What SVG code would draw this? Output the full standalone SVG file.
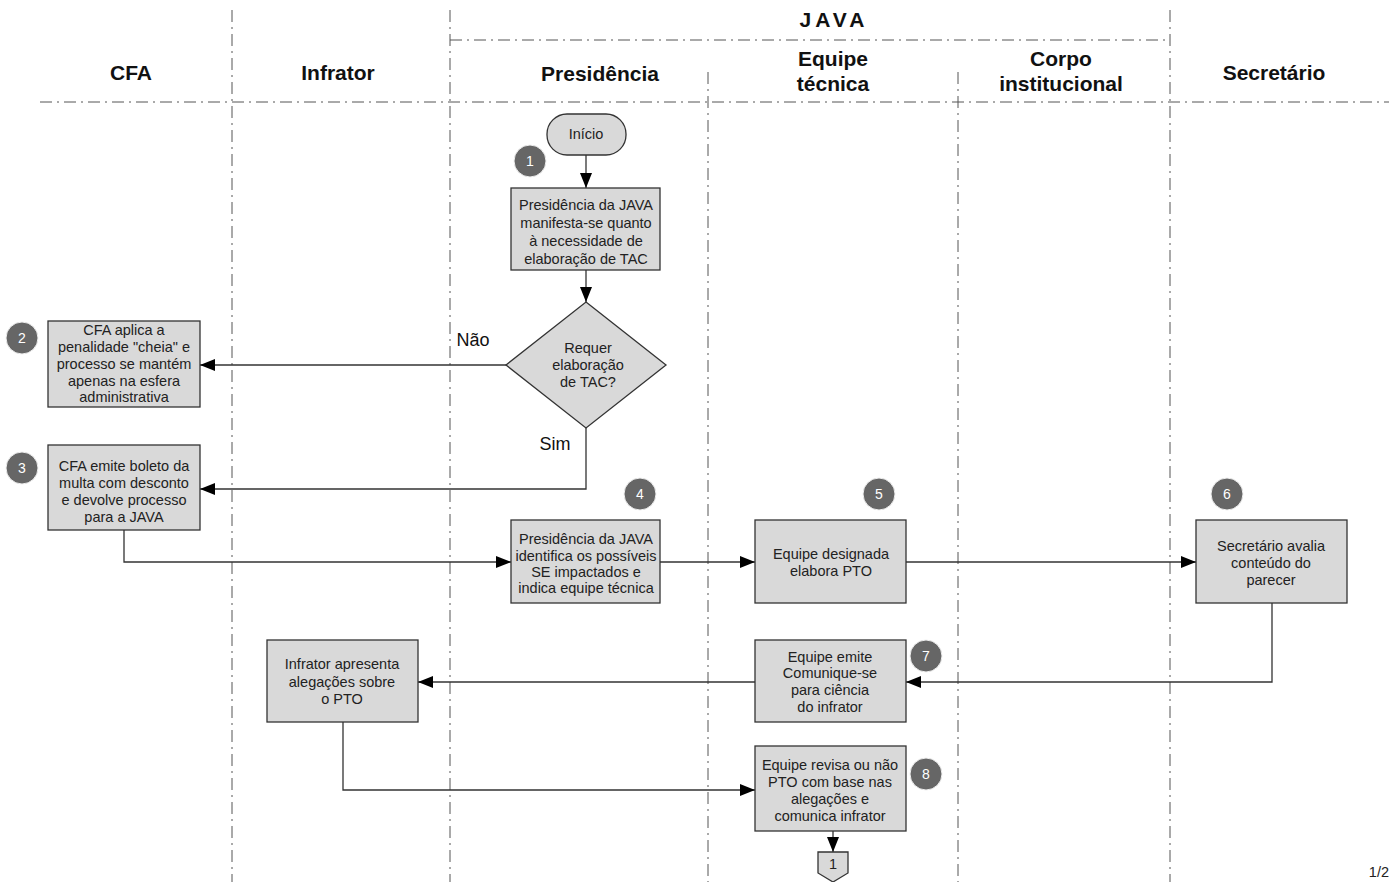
<svg xmlns="http://www.w3.org/2000/svg" width="1389" height="882" viewBox="0 0 1389 882">
<style>
.bg{fill:#ffffff}
.lane{stroke:#555;stroke-width:1;fill:none;stroke-dasharray:12 5 2 5}
.hdr{font-family:"Liberation Sans",Arial,sans-serif;font-weight:bold;font-size:21px;fill:#111;text-anchor:middle}
.box{fill:#d9d9d9;stroke:#333;stroke-width:1.3}
.t{font-family:"Liberation Sans",Arial,sans-serif;font-size:14.5px;fill:#222;text-anchor:middle}
.badge{fill:#666;stroke:#eee;stroke-width:1}
.bt{font-family:"Liberation Sans",Arial,sans-serif;font-size:14px;fill:#fff;text-anchor:middle}
.conn{stroke:#333;stroke-width:1.3;fill:none;marker-end:url(#arr)}
.lbl{font-family:"Liberation Sans",Arial,sans-serif;font-size:18px;fill:#111;text-anchor:middle}
</style>
<defs>
<marker id="arr" markerUnits="userSpaceOnUse" markerWidth="16" markerHeight="12" refX="15" refY="6" orient="auto">
<path d="M0,0 L15,6 L0,12 Z" fill="#000"/>
</marker>
</defs>
<rect class="bg" x="0" y="0" width="1389" height="882"/>
<g id="lanes">
<line class="lane" x1="232" y1="10" x2="232" y2="882"/>
<line class="lane" x1="450" y1="10" x2="450" y2="882"/>
<line class="lane" x1="708" y1="72" x2="708" y2="882"/>
<line class="lane" x1="958" y1="72" x2="958" y2="882"/>
<line class="lane" x1="1170" y1="10" x2="1170" y2="882"/>
<line class="lane" x1="40" y1="102" x2="1389" y2="102"/>
<line class="lane" x1="450" y1="40" x2="1170" y2="40"/>
</g>
<g id="headers">
<text class="hdr" x="131" y="80">CFA</text>
<text class="hdr" x="338" y="80">Infrator</text>
<text class="hdr" x="600" y="81">Presidência</text>
<text class="hdr" x="834" y="27" font-size="19" letter-spacing="4">JAVA</text>
<text class="hdr" x="833" y="66">Equipe</text>
<text class="hdr" x="833" y="91">técnica</text>
<text class="hdr" x="1061" y="66">Corpo</text>
<text class="hdr" x="1061" y="91">institucional</text>
<text class="hdr" x="1274" y="80">Secretário</text>
</g>
<g id="connectors">
<line class="conn" x1="586" y1="155" x2="586" y2="188"/>
<line class="conn" x1="586" y1="270" x2="586" y2="302"/>
<line class="conn" x1="506" y1="365" x2="200" y2="365"/>
<polyline class="conn" points="586,428 586,489 200,489"/>
<polyline class="conn" points="124,530 124,562 511,562"/>
<line class="conn" x1="660" y1="562" x2="755" y2="562"/>
<line class="conn" x1="906" y1="562" x2="1196" y2="562"/>
<polyline class="conn" points="1272,603 1272,682 906,682"/>
<line class="conn" x1="755" y1="682" x2="418" y2="682"/>
<polyline class="conn" points="343,722 343,790 755,790"/>
<line class="conn" x1="833" y1="831" x2="833" y2="852"/>
<text class="lbl" x="473" y="346">Não</text>
<text class="lbl" x="555" y="450">Sim</text>
</g>
<g id="inicio">
<rect class="box" x="547" y="114" width="79" height="41" rx="20" ry="20"/>
<text class="t" x="586" y="139">Início</text>
</g>
<g id="n1">
<rect class="box" x="511" y="188" width="149" height="82"/>
<text class="t" x="586" y="210">Presidência da JAVA</text>
<text class="t" x="586" y="228">manifesta-se quanto</text>
<text class="t" x="586" y="246">à necessidade de</text>
<text class="t" x="586" y="264">elaboração de TAC</text>
<circle class="badge" cx="530" cy="161" r="16"/>
<text class="bt" x="530" y="166">1</text>
</g>
<g id="decision">
<polygon class="box" points="586,302 666,365 586,428 506,365"/>
<text class="t" x="588" y="353">Requer</text>
<text class="t" x="588" y="370">elaboração</text>
<text class="t" x="588" y="387">de TAC?</text>
</g>
<g id="n2">
<rect class="box" x="48" y="321" width="152" height="86"/>
<text class="t" x="124" y="335">CFA aplica a</text>
<text class="t" x="124" y="352">penalidade "cheia" e</text>
<text class="t" x="124" y="369">processo se mantém</text>
<text class="t" x="124" y="386">apenas na esfera</text>
<text class="t" x="124" y="402">administrativa</text>
<circle class="badge" cx="22" cy="338" r="16"/>
<text class="bt" x="22" y="343">2</text>
</g>
<g id="n3">
<rect class="box" x="48" y="445" width="152" height="85"/>
<text class="t" x="124" y="471">CFA emite boleto da</text>
<text class="t" x="124" y="488">multa com desconto</text>
<text class="t" x="124" y="505">e devolve processo</text>
<text class="t" x="124" y="522">para a JAVA</text>
<circle class="badge" cx="22" cy="468" r="16"/>
<text class="bt" x="22" y="473">3</text>
</g>
<g id="n4">
<rect class="box" x="511" y="520" width="149" height="83"/>
<text class="t" x="586" y="544">Presidência da JAVA</text>
<text class="t" x="586" y="561">identifica os possíveis</text>
<text class="t" x="586" y="577">SE impactados e</text>
<text class="t" x="586" y="593">indica equipe técnica</text>
<circle class="badge" cx="640" cy="494" r="16"/>
<text class="bt" x="640" y="499">4</text>
</g>
<g id="n5">
<rect class="box" x="755" y="520" width="151" height="83"/>
<text class="t" x="831" y="559">Equipe designada</text>
<text class="t" x="831" y="576">elabora PTO</text>
<circle class="badge" cx="879" cy="494" r="16"/>
<text class="bt" x="879" y="499">5</text>
</g>
<g id="n6">
<rect class="box" x="1196" y="520" width="151" height="83"/>
<text class="t" x="1271" y="551">Secretário avalia</text>
<text class="t" x="1271" y="568">conteúdo do</text>
<text class="t" x="1271" y="585">parecer</text>
<circle class="badge" cx="1227" cy="494" r="16"/>
<text class="bt" x="1227" y="499">6</text>
</g>
<g id="n7">
<rect class="box" x="755" y="640" width="151" height="82"/>
<text class="t" x="830" y="662">Equipe emite</text>
<text class="t" x="830" y="678">Comunique-se</text>
<text class="t" x="830" y="695">para ciência</text>
<text class="t" x="830" y="712">do infrator</text>
<circle class="badge" cx="926" cy="656" r="16"/>
<text class="bt" x="926" y="661">7</text>
</g>
<g id="infrator">
<rect class="box" x="267" y="640" width="151" height="82"/>
<text class="t" x="342" y="669">Infrator apresenta</text>
<text class="t" x="342" y="687">alegações sobre</text>
<text class="t" x="342" y="704">o PTO</text>
</g>
<g id="n8">
<rect class="box" x="755" y="746" width="151" height="85"/>
<text class="t" x="830" y="770">Equipe revisa ou não</text>
<text class="t" x="830" y="787">PTO com base nas</text>
<text class="t" x="830" y="804">alegações e</text>
<text class="t" x="830" y="821">comunica infrator</text>
<circle class="badge" cx="926" cy="774" r="16"/>
<text class="bt" x="926" y="779">8</text>
</g>
<g id="offpage">
<polygon class="box" points="818,852 848,852 848,873 833,882 818,873"/>
<text class="t" x="833" y="869" font-size="14">1</text>
</g>
<text class="t" x="1389" y="877" style="text-anchor:end" font-size="15">1/2</text>
</svg>
